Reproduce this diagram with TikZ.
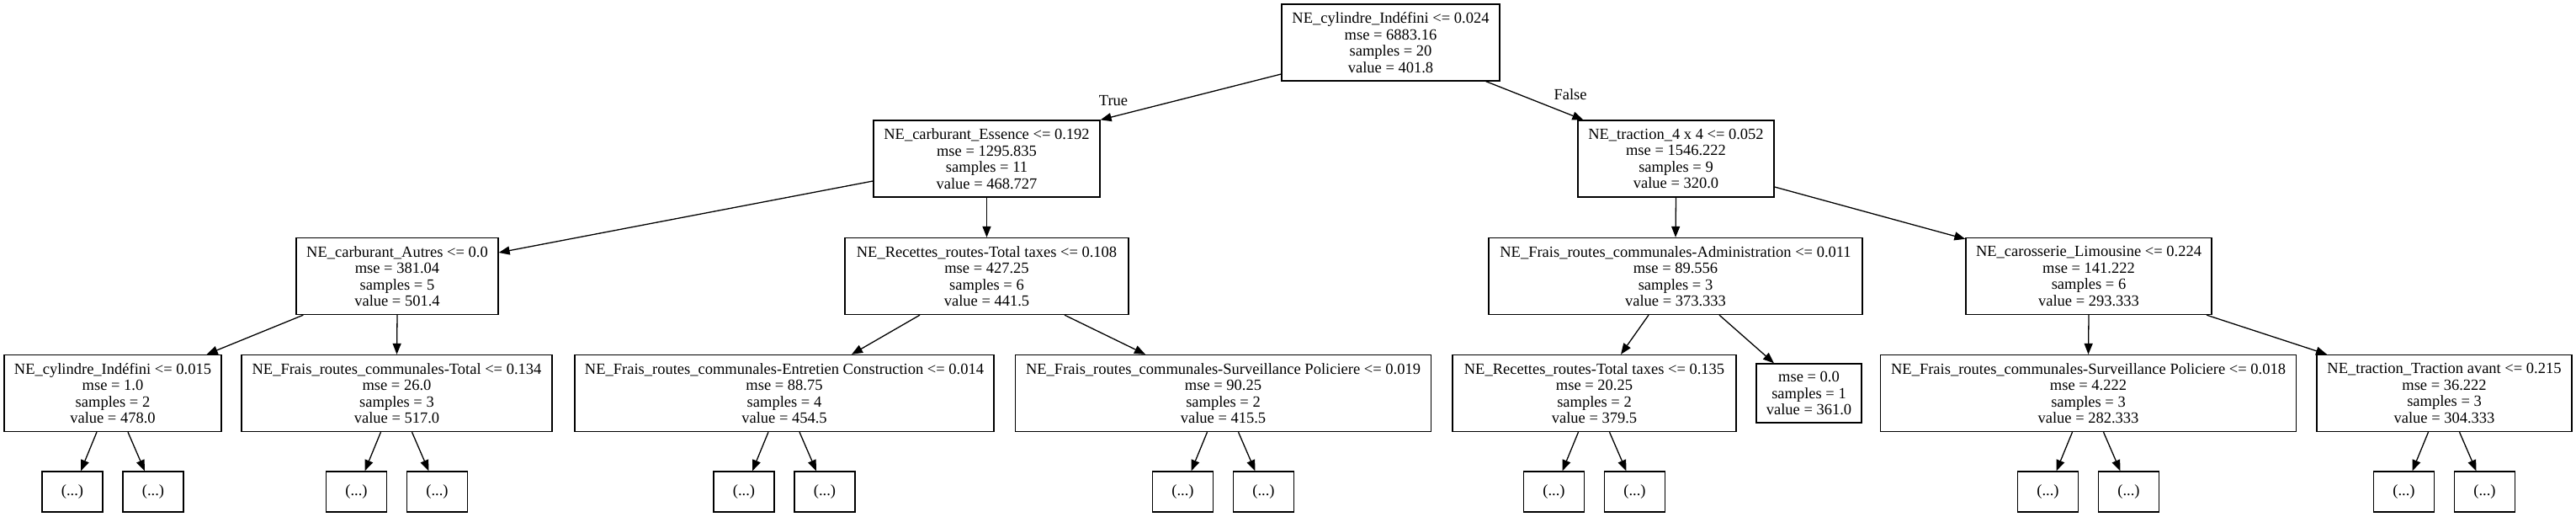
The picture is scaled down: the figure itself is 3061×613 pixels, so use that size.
\documentclass[tikz,border=0pt]{standalone}
\usepackage{fontspec}
\setmainfont{Liberation Serif}
\usetikzlibrary{arrows.meta}
\begin{document}
\begin{tikzpicture}[x=1pt,y=-1pt,
  txt/.style={font=\fontsize{18.5}{19.5}\selectfont},
  tbox/.style={txt, draw=black, line width=1.3pt, rectangle, inner sep=0pt, align=center, minimum height=91pt},
  leafbox/.style={tbox, minimum height=70pt},
  dotbox/.style={txt, draw=black, line width=1.3pt, rectangle, inner sep=0pt, minimum width=72pt, minimum height=48pt},
  edge/.style={line width=1.3pt, -{Triangle[length=13pt,width=10pt]}}]
\useasboundingbox (0,0) rectangle (3061,613);

% row 0
\node[tbox, minimum width=259pt] (root) at (1652.5,50.5) {NE\_cylindre\_Indéfini <= 0.024\\mse = 6883.16\\samples = 20\\value = 401.8};
% row 1
\node[tbox, minimum width=269pt] (ess) at (1172.5,188.5) {NE\_carburant\_Essence <= 0.192\\mse = 1295.835\\samples = 11\\value = 468.727};
\node[tbox, minimum width=233pt] (tr) at (1991.5,188.5) {NE\_traction\_4 x 4 <= 0.052\\mse = 1546.222\\samples = 9\\value = 320.0};
% row 2
\node[tbox, minimum width=240pt] (aut) at (472,328) {NE\_carburant\_Autres <= 0.0\\mse = 381.04\\samples = 5\\value = 501.4};
\node[tbox, minimum width=337pt] (rec1) at (1172.5,328) {NE\_Recettes\_routes-Total taxes <= 0.108\\mse = 427.25\\samples = 6\\value = 441.5};
\node[tbox, minimum width=444pt] (adm) at (1991,328) {NE\_Frais\_routes\_communales-Administration <= 0.011\\mse = 89.556\\samples = 3\\value = 373.333};
\node[tbox, minimum width=292pt] (lim) at (2482,328) {NE\_carosserie\_Limousine <= 0.224\\mse = 141.222\\samples = 6\\value = 293.333};
% row 3
\node[tbox, minimum width=258pt] (cyl) at (134,467) {NE\_cylindre\_Indéfini <= 0.015\\mse = 1.0\\samples = 2\\value = 478.0};
\node[tbox, minimum width=369pt] (ftot) at (471.5,467) {NE\_Frais\_routes\_communales-Total <= 0.134\\mse = 26.0\\samples = 3\\value = 517.0};
\node[tbox, minimum width=498pt] (ent) at (932,467) {NE\_Frais\_routes\_communales-Entretien Construction <= 0.014\\mse = 88.75\\samples = 4\\value = 454.5};
\node[tbox, minimum width=494pt] (sv1) at (1453.5,467) {NE\_Frais\_routes\_communales-Surveillance Policiere <= 0.019\\mse = 90.25\\samples = 2\\value = 415.5};
\node[tbox, minimum width=337pt] (rec2) at (1894.5,467) {NE\_Recettes\_routes-Total taxes <= 0.135\\mse = 20.25\\samples = 2\\value = 379.5};
\node[leafbox, minimum width=125pt] (leaf) at (2149.5,467) {mse = 0.0\\samples = 1\\value = 361.0};
\node[tbox, minimum width=494pt] (sv2) at (2481.5,467) {NE\_Frais\_routes\_communales-Surveillance Policiere <= 0.018\\mse = 4.222\\samples = 3\\value = 282.333};
\node[tbox, minimum width=303pt] (ta) at (2904.5,467) {NE\_traction\_Traction avant <= 0.215\\mse = 36.222\\samples = 3\\value = 304.333};

% row 4 and edges to it
\foreach \n in {cyl,ftot,ent,sv1,rec2,sv2,ta}{
  \path (\n.center) ++(-48,117) node[dotbox] (\n-l) {(...)};
  \path (\n.center) ++(48,117) node[dotbox] (\n-r) {(...)};
  \draw[edge] ([xshift=-19pt]\n.south) -- ([xshift=10pt]\n-l.north);
  \draw[edge] ([xshift=18pt]\n.south) -- ([xshift=-10pt]\n-r.north);
}

% edges
\draw[edge] ([yshift=-37.5pt]root.west) -- (ess.north east);
\draw[edge] ([xshift=-17pt]root.south east) -- ([xshift=7pt]tr.north west);
\node[txt] (tlab) at (1323,120) {True};
\node[txt] (flab) at (1866,112) {False};

\draw[edge] ([yshift=-26.5pt]ess.west) -- ([yshift=28pt]aut.east);
\draw[edge] (ess.south) -- (rec1.north);
\draw[edge] (tr.south) -- (adm.north);
\draw[edge] ([yshift=-33.5pt]tr.east) -- ([yshift=-2pt]lim.north west);

\draw[edge] ([xshift=9pt]aut.south west) -- ([xshift=-18pt]cyl.north east);
\draw[edge] (aut.south) -- (ftot.north);
\draw[edge] ([xshift=-79.5pt]rec1.south) -- ([xshift=80pt]ent.north);
\draw[edge] ([xshift=92.5pt]rec1.south) -- ([xshift=-92.5pt]sv1.north);
\draw[edge] ([xshift=-32pt]adm.south) -- ([xshift=31.5pt]rec2.north);
\draw[edge] ([xshift=52pt]adm.south) -- ([xshift=-41.5pt]leaf.north);
\draw[edge] (lim.south) -- (sv2.north);
\draw[edge] ([xshift=140pt]lim.south) -- ([xshift=-139.5pt]ta.north);
\end{tikzpicture}
\end{document}
